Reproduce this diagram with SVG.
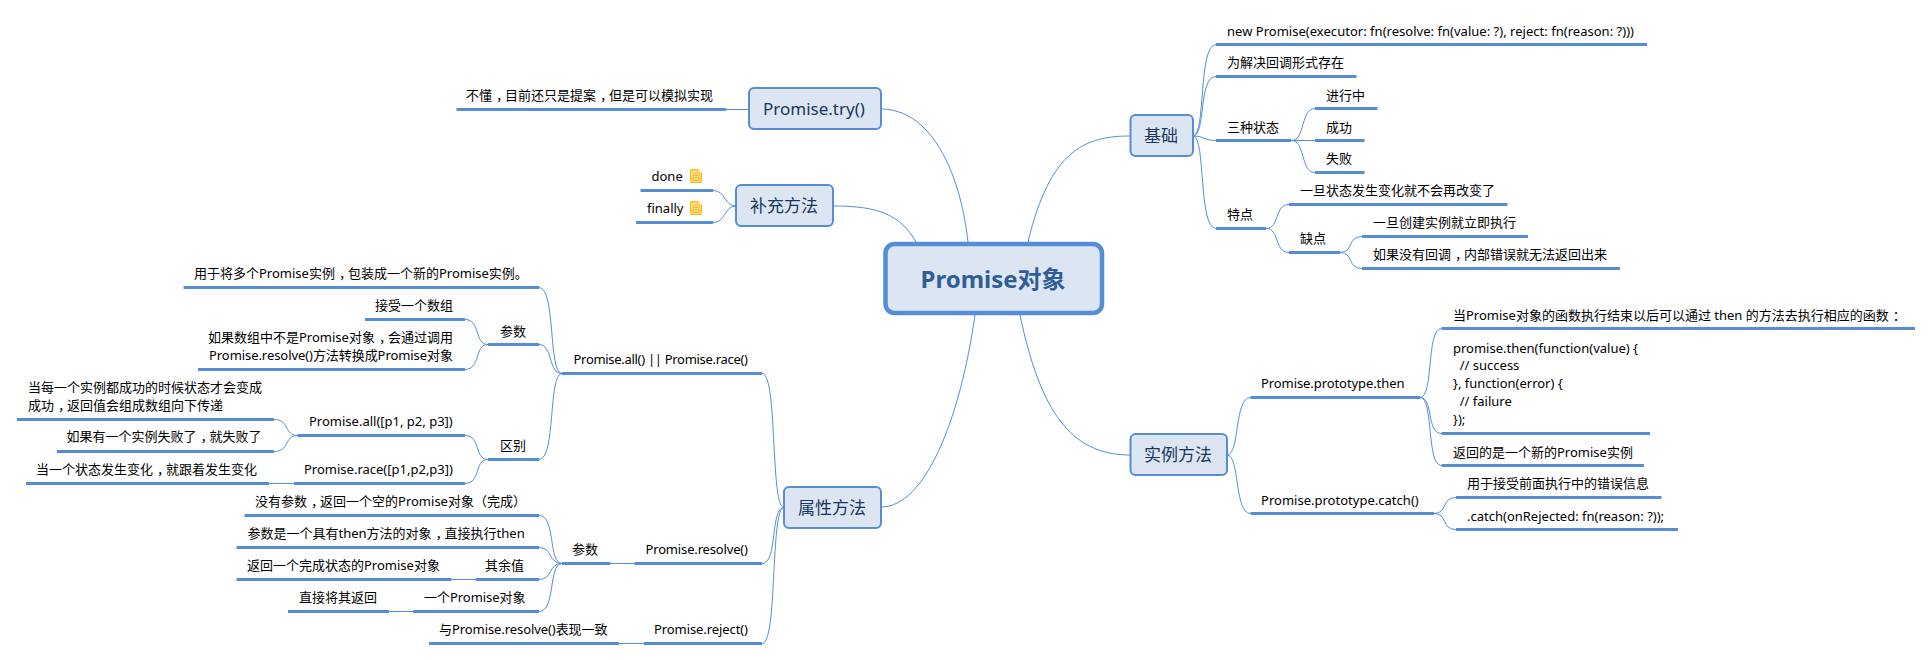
<svg xmlns="http://www.w3.org/2000/svg" width="1932" height="660" viewBox="0 0 1932 660">
<style>
text{font-family:"Noto Sans","Noto Sans CJK SC",sans-serif;font-size:13px;fill:#000}
.u{stroke:#558ed5;stroke-width:3;fill:none}
.c{stroke:#558ed5;stroke-width:1;fill:none}
.b{fill:#dce6f2;stroke:#558ed5;stroke-width:2}
.t{font-size:17px;fill:#17375e}
.root{fill:#dce6f2;stroke:#558ed5;stroke-width:4.5}
.rt{font-size:24px;font-weight:700;fill:#2f5d96}
</style>
<defs>
<g id="note"><path d="M0.5 0.5H8L11.5 4V13.5H0.5Z" fill="#ffd966" stroke="#f5b83d"/><path d="M8 0.5V4H11.5" fill="#fff2c2" stroke="#f5b83d"/><path d="M2.5 6.5H9.5M2.5 9H9.5M2.5 11.5H9.5" stroke="#f5b83d"/></g>
</defs>
<g id="connectors">
<path class="c" d="M1028 242C1050 150 1085 136 1130 136"/>
<path class="c" d="M1020 315C1040 410 1070 455 1130 455"/>
<path class="c" d="M975 315C960 420 925 507 881 507"/>
<path class="c" d="M968 242C960 170 930 109 881 109"/>
<path class="c" d="M916 242C900 215 880 206 833 206"/>
<path class="c" d="M749 109.500H726"/>
<path class="c" d="M736 206C724 206 726 190.500 713 190.500"/>
<path class="c" d="M736 206C724 206 726 222.500 713 222.500"/>
<path class="c" d="M1193 136C1206 136 1198 44.500 1216 44.500"/>
<path class="c" d="M1193 136C1206 136 1198 76.500 1216 76.500"/>
<path class="c" d="M1193 136C1204 136 1204 140.500 1216 140.500"/>
<path class="c" d="M1193 136C1206 136 1198 228.500 1216 228.500"/>
<path class="c" d="M1291 140.500C1306 140.500 1300 108.500 1315 108.500"/>
<path class="c" d="M1291 140.500H1315"/>
<path class="c" d="M1291 140.500C1306 140.500 1300 172.500 1315 172.500"/>
<path class="c" d="M1266 228.500C1280 228.500 1274 204.500 1289 204.500"/>
<path class="c" d="M1266 228.500C1280 228.500 1274 252.500 1289 252.500"/>
<path class="c" d="M1340 252.500C1354 252.500 1347 236.500 1362 236.500"/>
<path class="c" d="M1340 252.500C1354 252.500 1347 268.500 1362 268.500"/>
<path class="c" d="M1227 455C1240 455 1234 397.500 1250.600 397.500"/>
<path class="c" d="M1227 455C1240 455 1234 513.500 1250.600 513.500"/>
<path class="c" d="M1420 397.500C1434 397.500 1426 328.500 1441.500 328.500"/>
<path class="c" d="M1420 397.500C1434 397.500 1426 433.500 1441.500 433.500"/>
<path class="c" d="M1420 397.500C1434 397.500 1426 465.500 1441.500 465.500"/>
<path class="c" d="M1434 513.500C1448 513.500 1441 497.500 1456 497.500"/>
<path class="c" d="M1434 513.500C1448 513.500 1441 529.500 1456 529.500"/>
<path class="c" d="M784 507.500C770 507.500 778 373.500 762 373.500"/>
<path class="c" d="M784 507.500C770 507.500 778 563.500 762 563.500"/>
<path class="c" d="M784 507.500C770 507.500 778 643.500 762 643.500"/>
<path class="c" d="M562 373.500C548 373.500 556 287.500 539 287.500"/>
<path class="c" d="M562 373.500C548 373.500 553 344.500 539 344.500"/>
<path class="c" d="M562 373.500C548 373.500 556 459.500 539 459.500"/>
<path class="c" d="M488 344.500C474 344.500 481 319.500 465 319.500"/>
<path class="c" d="M488 344.500C474 344.500 481 369.500 465 369.500"/>
<path class="c" d="M488 459.500C474 459.500 481 435.500 465 435.500"/>
<path class="c" d="M488 459.500C474 459.500 481 483.500 465 483.500"/>
<path class="c" d="M297.500 435.500C284 435.500 290 419.500 274 419.500"/>
<path class="c" d="M297.500 435.500C284 435.500 290 451.500 274 451.500"/>
<path class="c" d="M294 483.500H269"/>
<path class="c" d="M634.500 563.500H610.500"/>
<path class="c" d="M562 563.500C548 563.500 556 515.500 539 515.500"/>
<path class="c" d="M562 563.500C548 563.500 553 547.500 539 547.500"/>
<path class="c" d="M562 563.500C548 563.500 553 579.500 539 579.500"/>
<path class="c" d="M562 563.500C548 563.500 556 611.500 539 611.500"/>
<path class="c" d="M475.500 579.500H451.500"/>
<path class="c" d="M413 611.500H389"/>
<path class="c" d="M644 643.500H619"/>
</g>
<g id="root"><rect class="root" x="885.500" y="244" width="216.500" height="69" rx="9"/><text class="rt" x="920.500" y="288">Promise对象</text></g>
<g id="n-try"><rect class="b" x="749" y="88" width="132" height="41" rx="5"/><text class="t" x="763" y="114.500">Promise.try()</text></g>
<g id="n-try-1"><path class="u" d="M456.500 109.500H726"/><text x="466" y="100">不懂<tspan dx="4">，</tspan><tspan dx="-4">目前还只是提案</tspan><tspan dx="4">，</tspan><tspan dx="-4">但是可以模拟实现</tspan></text></g>
<g id="n-extra"><rect class="b" x="736" y="185" width="97" height="41" rx="5"/><text class="t" x="750" y="212">补充方法</text></g>
<g id="n-done"><path class="u" d="M640.500 190.500H713"/><text x="651.500" y="181">done</text><use href="#note" x="690" y="169"/></g>
<g id="n-finally"><path class="u" d="M636 222.500H713"/><text x="647" y="213">finally</text><use href="#note" x="690" y="201"/></g>
<g id="n-basic"><rect class="b" x="1130.500" y="115" width="62.500" height="41" rx="5"/><text class="t" x="1144" y="142">基础</text></g>
<g id="n-b1"><path class="u" d="M1216 44.500H1647"/><text x="1227" y="36" textLength="407">new Promise(executor: fn(resolve: fn(value: ?), reject: fn(reason: ?)))</text></g>
<g id="n-b2"><path class="u" d="M1216 76.500H1356.500"/><text x="1227" y="67">为解决回调形式存在</text></g>
<g id="n-b3"><path class="u" d="M1216 140.500H1291"/><text x="1227" y="131.500">三种状态</text></g>
<g id="n-b31"><path class="u" d="M1315 108.500H1377.500"/><text x="1326" y="99.500">进行中</text></g>
<g id="n-b32"><path class="u" d="M1315 140.500H1364.500"/><text x="1326" y="131.500">成功</text></g>
<g id="n-b33"><path class="u" d="M1315 172.500H1364.500"/><text x="1326" y="163">失败</text></g>
<g id="n-b4"><path class="u" d="M1216 228.500H1266"/><text x="1227" y="218.500">特点</text></g>
<g id="n-b41"><path class="u" d="M1289 204.500H1507.500"/><text x="1300" y="194.500">一旦状态发生变化就不会再改变了</text></g>
<g id="n-b42"><path class="u" d="M1289 252.500H1340"/><text x="1300" y="242.500">缺点</text></g>
<g id="n-b421"><path class="u" d="M1362 236.500H1528"/><text x="1373" y="226.500">一旦创建实例就立即执行</text></g>
<g id="n-b422"><path class="u" d="M1362 268.500H1620"/><text x="1373" y="258.500">如果没有回调<tspan dx="4">，</tspan><tspan dx="-4">内部错误就无法返回出来</tspan></text></g>
<g id="n-inst"><rect class="b" x="1130.500" y="434" width="96.500" height="41" rx="5"/><text class="t" x="1144" y="461">实例方法</text></g>
<g id="n-then"><path class="u" d="M1250.600 397.500H1420"/><text x="1261" y="387.500" textLength="143.500">Promise.prototype.then</text></g>
<g id="n-then1"><path class="u" d="M1441.500 328.500H1915"/><text x="1453" y="319.500">当Promise对象的函数执行结束以后可以通过 then 的方法去执行相应的函数<tspan dx="4">：</tspan></text></g>
<g id="n-then2"><path class="u" d="M1441.500 433.500H1650"/><text x="1453" y="352.500">promise.then(function(value) {</text><text x="1453" y="370" xml:space="preserve">  // success</text><text x="1453" y="387.500">}, function(error) {</text><text x="1453" y="405.500" xml:space="preserve">  // failure</text><text x="1453" y="423.500">});</text></g>
<g id="n-then3"><path class="u" d="M1441.500 465.500H1644"/><text x="1453" y="456.500">返回的是一个新的Promise实例</text></g>
<g id="n-catch"><path class="u" d="M1250.600 513.500H1434"/><text x="1261" y="504.500" textLength="157.700">Promise.prototype.catch()</text></g>
<g id="n-catch1"><path class="u" d="M1456 497.500H1661.500"/><text x="1467" y="487.500">用于接受前面执行中的错误信息</text></g>
<g id="n-catch2"><path class="u" d="M1456 529.500H1678"/><text x="1467" y="520.500">.catch(onRejected: fn(reason: ?));</text></g>
<g id="n-prop"><rect class="b" x="784" y="487" width="97" height="41" rx="5"/><text class="t" x="798" y="514">属性方法</text></g>
<g id="n-all"><path class="u" d="M562 373.500H762"/><text x="573.500" y="364" textLength="174.500">Promise.all() || Promise.race()</text></g>
<g id="n-all1"><path class="u" d="M183.600 287.500H539"/><text x="194" y="277.500">用于将多个Promise实例<tspan dx="4">，</tspan><tspan dx="-4">包装成一个新的Promise实例。</tspan></text></g>
<g id="n-all2"><path class="u" d="M488 344.500H539"/><text x="500" y="335.500">参数</text></g>
<g id="n-all21"><path class="u" d="M365 319.500H465"/><text x="375" y="309.500">接受一个数组</text></g>
<g id="n-all22"><path class="u" d="M198 369.500H465"/><text x="208" y="342">如果数组中不是Promise对象<tspan dx="4">，</tspan><tspan dx="-4">会通过调用</tspan></text><text x="209" y="359.500" textLength="244">Promise.resolve()方法转换成Promise对象</text></g>
<g id="n-all3"><path class="u" d="M488 459.500H539"/><text x="500" y="450">区别</text></g>
<g id="n-all31"><path class="u" d="M297.500 435.500H465"/><text x="309" y="426">Promise.all([p1, p2, p3])</text></g>
<g id="n-all311"><path class="u" d="M17 419.500H274"/><text x="28" y="392">当每一个实例都成功的时候状态才会变成</text><text x="28" y="410">成功<tspan dx="4">，</tspan><tspan dx="-4">返回值会组成数组向下传递</tspan></text></g>
<g id="n-all312"><path class="u" d="M57 451.500H274"/><text x="66.500" y="441">如果有一个实例失败了<tspan dx="4">，</tspan><tspan dx="-4">就失败了</tspan></text></g>
<g id="n-all32"><path class="u" d="M294 483.500H465"/><text x="304" y="474">Promise.race([p1,p2,p3])</text></g>
<g id="n-all321"><path class="u" d="M26 483.500H269"/><text x="36" y="474">当一个状态发生变化<tspan dx="4">，</tspan><tspan dx="-4">就跟着发生变化</tspan></text></g>
<g id="n-res"><path class="u" d="M634.500 563.500H762"/><text x="645.500" y="553.500" textLength="102.500">Promise.resolve()</text></g>
<g id="n-res1"><path class="u" d="M562 563.500H610.500"/><text x="572" y="553.500">参数</text></g>
<g id="n-res11"><path class="u" d="M244.500 515.500H539"/><text x="255" y="505.500">没有参数<tspan dx="4">，</tspan><tspan dx="-4">返回一个空的Promise对象（完成）</tspan></text></g>
<g id="n-res12"><path class="u" d="M236.500 547.500H539"/><text x="247.500" y="537.500">参数是一个具有then方法的对象<tspan dx="4">，</tspan><tspan dx="-4">直接执行then</tspan></text></g>
<g id="n-res13"><path class="u" d="M475.500 579.500H539"/><text x="485" y="569.500">其余值</text></g>
<g id="n-res131"><path class="u" d="M236.500 579.500H451.500"/><text x="247" y="569.500">返回一个完成状态的Promise对象</text></g>
<g id="n-res14"><path class="u" d="M413 611.500H539"/><text x="424" y="601.500" textLength="101.500">一个Promise对象</text></g>
<g id="n-res141"><path class="u" d="M288 611.500H389"/><text x="299" y="601.500">直接将其返回</text></g>
<g id="n-rej"><path class="u" d="M644 643.500H762"/><text x="654" y="633.500" textLength="94">Promise.reject()</text></g>
<g id="n-rej1"><path class="u" d="M429 643.500H619"/><text x="439" y="633.500" textLength="168.500">与Promise.resolve()表现一致</text></g>
</svg>
